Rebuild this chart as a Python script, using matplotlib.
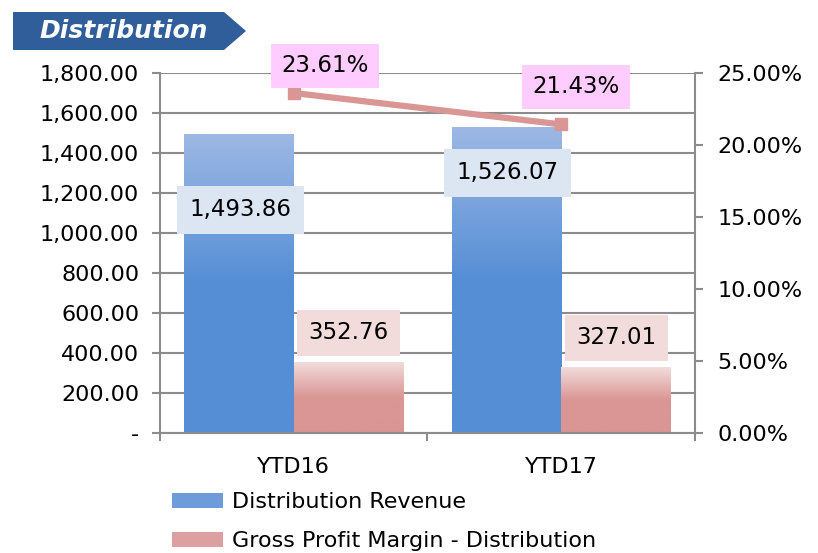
import matplotlib
matplotlib.use('Agg')
import matplotlib.pyplot as plt
import numpy as np
from matplotlib.colors import LinearSegmentedColormap
from matplotlib.patches import Polygon, Patch

categories = ['YTD16', 'YTD17']
revenue = [1493.86, 1526.07]
gross_profit = [352.76, 327.01]
margin = [0.2361, 0.2143]
left_ticks = [0, 200, 400, 600, 800, 1000, 1200, 1400, 1600, 1800]
right_ticks = [0, 0.05, 0.10, 0.15, 0.20, 0.25]

plt.rcParams['font.family'] = ['DejaVu Sans']

fig = plt.figure(figsize=(8.18, 5.53), dpi=100)
ax = fig.add_axes([0.1956, 0.217, 0.654, 0.651])
ax2 = ax.twinx()

x = np.arange(len(categories))
w = 0.41
grid_c = '#8c8c8c'
tick_fs = 16

blue_cmap = LinearSegmentedColormap.from_list('b', ['#558ED5', '#558ED5', '#9DB8E4'])
red_cmap = LinearSegmentedColormap.from_list('r', ['#D99694', '#D99694', '#F2DCDB'])

grad = np.linspace(0, 1, 256).reshape(-1, 1)
for i in x:
    ax.imshow(grad, cmap=blue_cmap, origin='lower', aspect='auto',
              extent=[i - w, i, 0, revenue[i]], zorder=2)
    ax.imshow(grad, cmap=red_cmap, origin='lower', aspect='auto',
              extent=[i, i + w, 0, gross_profit[i]], zorder=2)

ax.set_xlim(-0.5, 1.5)
ax.set_ylim(0, 1800)
ax.set_yticks(left_ticks)
ax.set_yticklabels(['-'] + [f'{v:,.2f}' for v in left_ticks[1:]])
ax.set_xticks(x)
ax.set_xticklabels(categories)
ax.set_xticks([-0.5, 0.5, 1.5], minor=True)
ax.tick_params(axis='x', which='major', length=0, pad=17, labelsize=16)
ax.tick_params(axis='x', which='minor', length=6, color=grid_c, width=1.5)
ax.tick_params(axis='y', length=6, color=grid_c, width=1.5, labelsize=tick_fs, pad=9)
ax.grid(axis='y', color=grid_c, linewidth=1.5, zorder=0)
ax.set_axisbelow(True)
for s in ['top', 'right']:
    ax.spines[s].set_visible(False)
for s in ['left', 'bottom']:
    ax.spines[s].set_color(grid_c)
    ax.spines[s].set_linewidth(1.5)

ax2.set_ylim(0, 0.25)
ax2.set_yticks(right_ticks)
ax2.set_yticklabels([f'{v*100:.2f}%' for v in right_ticks])
ax2.tick_params(axis='y', length=6, color=grid_c, width=1.5, labelsize=tick_fs, pad=10)
for s in ['top', 'left', 'bottom']:
    ax2.spines[s].set_visible(False)
ax2.spines['right'].set_color(grid_c)
ax2.spines['right'].set_linewidth(1.5)

ax2.plot(x, margin, color='#D99694', linewidth=4.5, marker='s', markersize=9, zorder=3)

# data labels
rev_lab_y = [1115, 1300]
gp_lab_y = [500, 475]
for i in x:
    ax.text(i - 0.2, rev_lab_y[i], f'{revenue[i]:,.2f}', ha='center', va='center',
            fontsize=16.5, zorder=5,
            bbox=dict(boxstyle='square,pad=0.55', fc='#DCE6F2', ec='none'))
    ax.text(i + 0.205, gp_lab_y[i], f'{gross_profit[i]:,.2f}',
            ha='center', va='center', fontsize=16.5, zorder=5,
            bbox=dict(boxstyle='square,pad=0.5', fc='#F2DCDB', ec='none'))
ax2.text(0.117, 0.2549, f'{margin[0]*100:.2f}%', ha='center', va='center',
         fontsize=16.5, zorder=5, bbox=dict(boxstyle='square,pad=0.45', fc='#FFCCFF', ec='none'))
ax2.text(1.055, 0.2403, f'{margin[1]*100:.2f}%', ha='center', va='center',
         fontsize=16.5, zorder=5, bbox=dict(boxstyle='square,pad=0.45', fc='#FFCCFF', ec='none'))

# title banner
banner = Polygon([[13 / 818, 1 - 12 / 553], [224 / 818, 1 - 12 / 553], [246 / 818, 1 - 31 / 553],
                  [224 / 818, 1 - 50 / 553], [13 / 818, 1 - 50 / 553]],
                 closed=True, transform=fig.transFigure, fc='#2F5E9B', ec='none')
fig.patches.append(banner)
fig.text(39 / 818, 1 - 31 / 553, 'Distribution', color='white', fontsize=18,
         fontweight='bold', style='italic', va='center', ha='left')

handles = [Patch(fc='#6E9CDB', ec='none'), Patch(fc='#DCA0A0', ec='none')]
fig.legend(handles, ['Distribution Revenue', 'Gross Profit Margin - Distribution'],
           loc='upper left', bbox_to_anchor=(172 / 818, 1 - 492 / 553), frameon=False,
           fontsize=16, borderpad=0, borderaxespad=0,
           handlelength=2.3, handleheight=0.65, labelspacing=0.85, handletextpad=0.4)

fig.savefig('out.png', dpi=100)
